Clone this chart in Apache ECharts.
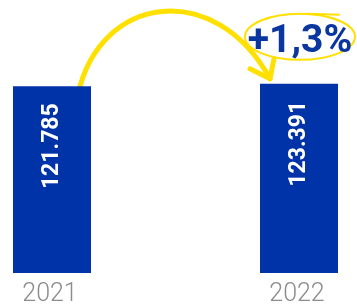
<!DOCTYPE html>
<html>
<head>
<meta charset="utf-8">
<script src="https://cdn.jsdelivr.net/npm/echarts@6/dist/echarts.min.js"></script>
<style>
  html, body { margin: 0; padding: 0; background: #fff; }
  #chart { width: 357px; height: 307px; }
</style>
</head>
<body>
<div id="chart"></div>
<script>
const years = ['2021', '2022']
const values = [121785, 123391]
const changeLabel = '+1,3%'

const blue = '#0033a8'
const yellow = '#ffe000'

const formatNum = (v) => String(v).replace(/\B(?=(\d{3})+(?!\d))/g, '.')

const chart = echarts.init(document.getElementById('chart'))

chart.setOption({
  animation: false,
  grid: { left: 52, right: 58, top: 43, bottom: 30 },
  xAxis: {
    type: 'category',
    data: years,
    boundaryGap: false,
    axisLine: { show: false },
    axisTick: { show: false },
    axisLabel: {
      color: '#8c8c8c',
      fontSize: 25,
      fontFamily: 'Roboto',
      fontWeight: 300,
      margin: 9,
      padding: [0, 4, 0, 0],
    },
  },
  yAxis: {
    type: 'value',
    min: 0,
    max: 150000,
    show: false,
    splitLine: { show: false },
  },
  series: [
    {
      type: 'bar',
      data: values,
      barWidth: 78,
      itemStyle: { color: blue },
      label: {
        show: true,
        position: 'insideTop',
        rotate: 90,
        align: 'right',
        verticalAlign: 'middle',
        distance: 17,
        color: '#fff',
        fontSize: 23,
        fontWeight: 'bold',
        fontFamily: 'Roboto',
        formatter: (p) => formatNum(p.value),
      },
    },
  ],
})

// arrow and change annotation placed relative to the bar tops
const a = chart.convertToPixel({ seriesIndex: 0 }, [0, values[0]])
const b = chart.convertToPixel({ seriesIndex: 0 }, [1, values[1]])
const x0 = a[0] + 26, y0 = a[1] + 8
const tx = b[0] - 29, ty = b[1] - 5

chart.setOption({
  graphic: [
    {
      type: 'bezierCurve',
      shape: {
        x1: x0, y1: y0,
        cpx1: x0 + 22, cpy1: y0 - 100,
        cpx2: tx - 55, cpy2: ty - 100,
        x2: tx, y2: ty,
      },
      style: { stroke: yellow, lineWidth: 5, lineCap: 'round', fill: null },
    },
    {
      type: 'polyline',
      shape: { points: [[tx - 20, ty - 10], [tx, ty], [tx + 4, ty - 20]] },
      style: { stroke: yellow, lineWidth: 5, lineCap: 'round', lineJoin: 'round', fill: null },
    },
    {
      type: 'ellipse',
      shape: { cx: b[0] + 1, cy: b[1] - 47, rx: 55, ry: 23 },
      style: { stroke: yellow, lineWidth: 2, fill: null },
    },
    {
      type: 'line',
      shape: { x1: b[0] + 8, y1: b[1] - 70, x2: b[0] + 40, y2: b[1] - 69 },
      style: { stroke: yellow, lineWidth: 2, lineCap: 'round' },
    },
    {
      type: 'text',
      x: b[0] + 1,
      y: b[1] - 42,
      style: {
        text: changeLabel,
        fill: '#0a36a0',
        font: 'bold 39px Roboto',
        align: 'center',
        verticalAlign: 'middle',
      },
    },
  ],
})
</script>
</body>
</html>
